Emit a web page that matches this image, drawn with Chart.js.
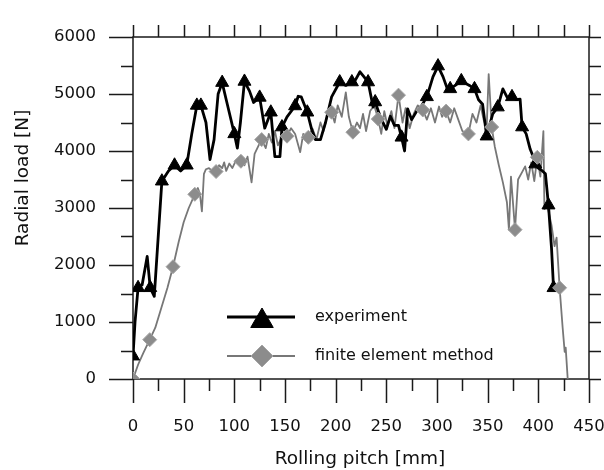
<!DOCTYPE html>
<html>
<head>
<meta charset="utf-8">
<script src="https://cdn.jsdelivr.net/npm/chart.js@4/dist/chart.umd.min.js"></script>
<style>
  body { margin: 0; background: #fff; }
  canvas { display: block; }
</style>
</head>
<body>
<canvas id="grafico" width="604" height="470"></canvas>
<script>
// experiment (black line, triangles)
const expX = [0, 2, 5, 9, 14, 17, 21, 28.5, 35, 41, 47, 53, 58, 63, 67, 72, 76, 80, 84, 88,
  92, 96, 100, 103, 106, 110, 115, 119, 125, 130, 136, 140, 145, 147, 152, 160, 163, 166, 172, 176,
  180, 185, 190, 196, 204, 210, 216, 219, 224, 228, 232, 237, 239, 244, 250, 254, 258, 262, 265, 268,
  271, 275, 280, 285, 290, 296, 301, 306, 310, 313, 318, 324, 332, 337, 341, 345, 349, 355, 360, 365,
  369, 374, 378, 382, 384, 388, 392, 395, 397, 400, 404, 407, 410, 413, 415];
const expY = [400, 1000, 1600, 1650, 2150, 1600, 1450, 3470, 3650, 3750, 3650, 3750, 4300, 4800, 4800, 4500, 3850, 4200, 5000, 5200,
  4900, 4600, 4300, 4050, 4500, 5220, 5050, 4850, 4940, 4400, 4680, 3900, 3900, 4420, 4600, 4790, 4960, 4950, 4680, 4400,
  4200, 4200, 4500, 4950, 5210, 5150, 5210, 5230, 5390, 5300, 5210, 4770, 4860, 4600, 4380, 4610, 4450, 4450, 4240, 4000,
  4740, 4550, 4700, 4800, 4950, 5300, 5490, 5300, 5100, 5090, 5150, 5230, 5150, 5090, 4900, 4820, 4260, 4650, 4770, 5090,
  4950, 4950, 4900, 4910, 4420, 4300, 4030, 3900, 3770, 3700, 3650, 3600, 3050, 2300, 1600];
const expMarkX = [0, 5, 17, 28.5, 41, 53, 63, 67, 88, 100, 110, 125, 136, 147, 160, 172, 204, 216, 232, 239,
  265, 290, 301, 313, 324, 337, 349, 360, 374, 384, 397, 410, 415];
const expMarkY = [400, 1600, 1600, 3470, 3750, 3750, 4800, 4800, 5200, 4300, 5220, 4940, 4680, 4420, 4790, 4680, 5210, 5210, 5210, 4860,
  4240, 4950, 5490, 5090, 5230, 5090, 4260, 4770, 4950, 4420, 3770, 3050, 1600];

// finite element method (grey line, diamonds)
const femX = [0, 5, 10, 16.5, 22, 28, 34, 39.5, 45, 50, 55, 61, 64, 66, 68, 70, 72, 75, 78, 82,
  85, 88, 90, 92, 95, 98, 102, 106.5, 110, 113, 117, 120, 124, 127, 131, 134, 137, 140, 143, 147,
  152, 156, 160, 165, 168, 173, 177, 181, 185, 188, 192, 196, 199, 202, 206, 210, 213, 217, 221, 224,
  227, 230, 234, 238, 242, 245, 248, 251, 255, 258, 262, 266, 269, 273, 277, 281, 286, 290, 294, 298,
  302, 305, 309, 313, 317, 321, 325, 331, 335, 339, 343, 346, 349, 351, 354, 357, 361, 365, 369, 371,
  373, 377, 380, 384, 387, 390, 393, 396, 399, 402, 405, 406, 409, 413, 416, 418, 421, 424, 426, 427, 429];
const femY = [0, 250, 450, 690, 900, 1250, 1600, 1970, 2400, 2750, 3000, 3240, 3350, 3250, 2940, 3600, 3680, 3700, 3650, 3640,
  3750, 3700, 3800, 3650, 3780, 3700, 3850, 3820, 3750, 3900, 3450, 3950, 4100, 4200, 4050, 4300, 4150, 4350, 4100, 4250,
  4260, 4400, 4300, 3980, 4300, 4240, 4400, 4200, 4500, 4350, 4650, 4680, 4500, 4800, 4600, 5030, 4600, 4330, 4500, 4400,
  4650, 4350, 4700, 4800, 4560, 4300, 4700, 4450, 4700, 4400, 4980, 4500, 4750, 4400, 4650, 4800, 4720, 4550, 4750, 4500,
  4780, 4600, 4700, 4500, 4750, 4550, 4350, 4300, 4650, 4500, 4800, 4550, 4400, 5350, 4420, 4080, 3750, 3450, 3100, 2620,
  3550, 2620, 3500, 3630, 3730, 3500, 3800, 3470, 3890, 3550, 4350, 2980, 3030, 2700, 2330, 2480, 1600, 900, 475, 550, 0];
const femMarkX = [0, 16.5, 39.5, 61, 82, 106.5, 127, 152, 173, 196, 217, 242, 262, 286, 309, 331, 354, 377, 399, 421];
const femMarkY = [0, 690, 1970, 3240, 3640, 3820, 4200, 4260, 4240, 4680, 4330, 4560, 4980, 4720, 4700, 4300, 4420, 2620, 3890, 1600];

const legendas = ['experiment', 'finite element method'];
const tituloX = 'Rolling pitch [mm]';
const tituloY = 'Radial load [N]';

const pontos = (xs, ys) => xs.map((v, i) => ({ x: v, y: ys[i] }));
const fonte = 'DejaVu Sans';

// frame, ticks on all four sides, axis titles and legend
const moldura = {
  id: 'moldura',
  beforeDatasetsDraw(chart) {
    const { ctx, chartArea: a, scales: { x, y } } = chart;
    ctx.save();
    ctx.strokeStyle = '#1a1a1a';
    ctx.lineWidth = 1.5;
    ctx.strokeRect(a.left, a.top, a.right - a.left, a.bottom - a.top);
    ctx.beginPath();
    for (let v = 0; v <= 450; v += 25) {
      const px = Math.round(x.getPixelForValue(v)) + 0.5;
      const len = v % 50 === 0 ? 24 : 12;
      ctx.moveTo(px, a.bottom); ctx.lineTo(px, a.bottom + len);
      ctx.moveTo(px, a.top); ctx.lineTo(px, a.top - 12);
    }
    for (let v = 0; v <= 6000; v += 500) {
      const py = Math.round(y.getPixelForValue(v)) + 0.5;
      const len = v % 1000 === 0 ? 24 : 12;
      ctx.moveTo(a.left, py); ctx.lineTo(a.left - len, py);
      ctx.moveTo(a.right, py); ctx.lineTo(a.right + 12, py);
    }
    ctx.stroke();
    ctx.restore();
  },
  afterDraw(chart) {
    const { ctx } = chart;
    ctx.save();
    ctx.fillStyle = '#111';
    ctx.textBaseline = 'middle';
    // axis titles
    ctx.font = '18.5px "' + fonte + '"';
    ctx.textAlign = 'center';
    ctx.fillText(tituloX, 360, 459);
    ctx.translate(23, 178);
    ctx.rotate(-Math.PI / 2);
    ctx.fillText(tituloY, 0, 0);
    ctx.restore();

    // legend
    ctx.save();
    const linhas = [
      { y: 317, cor: '#000', larg: 2.8, estilo: 'triangle', raio: 13, fundo: '#000', borda: '#000' },
      { y: 356, cor: '#777', larg: 1.8, estilo: 'rectRot', raio: 11, fundo: '#8c8c8c', borda: '#a5a5a5' }
    ];
    linhas.forEach((l, i) => {
      ctx.strokeStyle = l.cor;
      ctx.lineWidth = l.larg;
      ctx.beginPath();
      ctx.moveTo(227, l.y); ctx.lineTo(295, l.y);
      ctx.stroke();
      ctx.fillStyle = l.fundo;
      ctx.strokeStyle = l.borda;
      ctx.lineWidth = 1;
      Chart.helpers.drawPoint(ctx, { pointStyle: l.estilo, radius: l.raio, rotation: 0, borderWidth: 1 }, 262, i === 0 ? l.y + 4 : l.y);
      ctx.fillStyle = '#111';
      ctx.font = '16px "' + fonte + '"';
      ctx.textAlign = 'left';
      ctx.textBaseline = 'middle';
      ctx.fillText(legendas[i], 315, l.y);
    });
    ctx.restore();
  }
};

new Chart(document.getElementById('grafico'), {
  type: 'scatter',
  data: {
    datasets: [
      {
        label: legendas[1] + ' markers',
        data: pontos(femMarkX, femMarkY),
        showLine: false,
        pointStyle: 'rectRot',
        pointRadius: 7,
        backgroundColor: '#8c8c8c',
        borderColor: '#a5a5a5',
        borderWidth: 1,
        order: 0
      },
      {
        label: legendas[0] + ' markers',
        data: pontos(expMarkX, expMarkY),
        showLine: false,
        pointStyle: 'triangle',
        pointRadius: 7.5,
        backgroundColor: '#000',
        borderColor: '#000',
        borderWidth: 1,
        order: 1
      },
      {
        label: legendas[0],
        data: pontos(expX, expY),
        showLine: true,
        pointRadius: 0,
        borderColor: '#000',
        borderWidth: 2.8,
        borderJoinStyle: 'round',
        tension: 0,
        order: 2
      },
      {
        label: legendas[1],
        data: pontos(femX, femY),
        showLine: true,
        pointRadius: 0,
        borderColor: '#777',
        borderWidth: 1.8,
        borderJoinStyle: 'round',
        tension: 0,
        order: 3
      }
    ]
  },
  options: {
    responsive: false,
    animation: false,
    layout: { padding: { left: 0, right: 15, top: 37, bottom: 0 } },
    plugins: {
      legend: { display: false },
      tooltip: { enabled: false }
    },
    scales: {
      x: {
        type: 'linear',
        min: 0,
        max: 450,
        afterFit: (s) => { s.height = 91; s.paddingLeft = 0; s.paddingRight = 0; },
        grid: { display: false, drawTicks: false },
        border: { display: false },
        ticks: { stepSize: 50, padding: 38, maxRotation: 0, color: '#111', font: { family: fonte, size: 16.5 }, callback: (v) => String(v) }
      },
      y: {
        type: 'linear',
        min: 0,
        max: 6000,
        afterFit: (s) => { s.width = 133; s.paddingTop = 0; s.paddingBottom = 0; },
        grid: { display: false, drawTicks: false },
        border: { display: false },
        ticks: { stepSize: 1000, padding: 37, color: '#111', font: { family: fonte, size: 16.5 }, callback: (v) => String(v) }
      }
    }
  },
  plugins: [moldura]
});
</script>
</body>
</html>
